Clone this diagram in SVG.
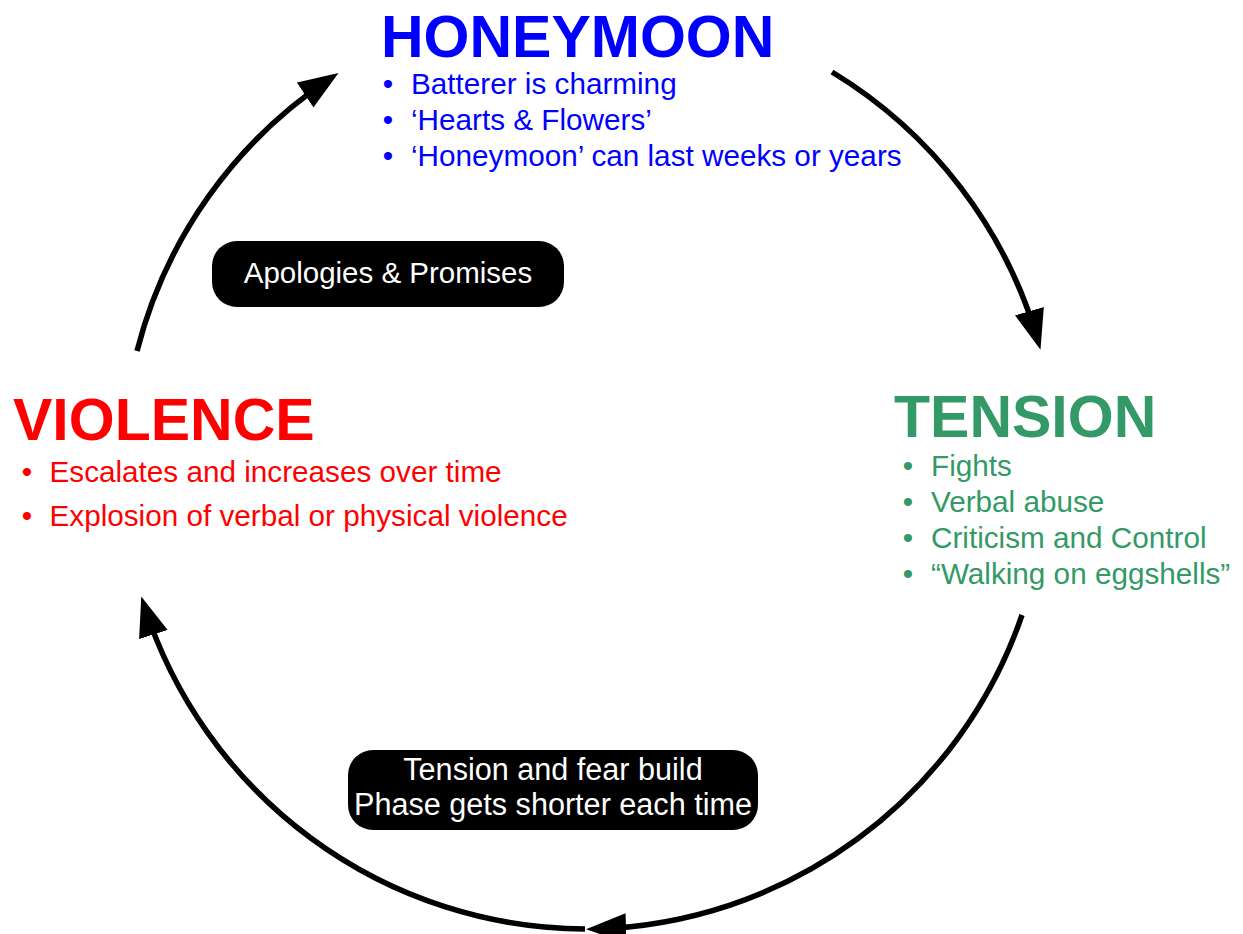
<svg xmlns="http://www.w3.org/2000/svg" width="1243" height="934" viewBox="0 0 1243 934">
<style>
  text { font-family: "Liberation Sans", Arial, sans-serif; }
  .h { font-weight: bold; font-size: 59px; }
  .b { font-size: 29.7px; }
  .blue { fill: #0000FF; }
  .green { fill: #339966; }
  .red { fill: #FF0000; }
  .arc { fill: none; stroke: #000; stroke-width: 5.5; marker-end: url(#ah); }
  .lbl { fill: #000; }
  .lt { fill: #fff; font-size: 29.5px; text-anchor: middle; }
  .dot { text-anchor: middle; }
</style>
<defs>
  <marker id="ah" markerUnits="userSpaceOnUse" markerWidth="42" markerHeight="32" refX="31" refY="15" orient="auto">
    <path d="M0,0 L40,15 L0,30 z" fill="#000"/>
  </marker>
</defs>
<rect width="1243" height="934" fill="#fff"/>
<g id="connectors">
  <path class="arc" d="M137,351 A465,465 0 0 1 331,78"/>
  <path class="arc" d="M832,72 A465,465 0 0 1 1038,341"/>
  <path class="arc" d="M1022,615 A465,465 0 0 1 595,929"/>
  <path class="arc" d="M585,929 A465,465 0 0 1 144,605"/>
</g>
<g id="honeymoon">
  <text class="h blue" x="381" y="57">HONEYMOON</text>
  <text class="b blue dot" x="388" y="94">•</text>
  <text class="b blue" x="411" y="94">Batterer is charming</text>
  <text class="b blue dot" x="388" y="130">•</text>
  <text class="b blue" x="411" y="130">‘Hearts &amp; Flowers’</text>
  <text class="b blue dot" x="388" y="166">•</text>
  <text class="b blue" x="411" y="166">‘Honeymoon’ can last weeks or years</text>
</g>
<g id="tension">
  <text class="h green" x="894" y="437">TENSION</text>
  <text class="b green dot" x="908" y="476">•</text>
  <text class="b green" x="931" y="476">Fights</text>
  <text class="b green dot" x="908" y="512">•</text>
  <text class="b green" x="931" y="512">Verbal abuse</text>
  <text class="b green dot" x="908" y="548">•</text>
  <text class="b green" x="931" y="548">Criticism and Control</text>
  <text class="b green dot" x="908" y="584">•</text>
  <text class="b green" x="931" y="584">“Walking on eggshells”</text>
</g>
<g id="violence">
  <text class="h red" x="13" y="440">VIOLENCE</text>
  <text class="b red dot" x="27" y="482">•</text>
  <text class="b red" x="49.5" y="482">Escalates and increases over time</text>
  <text class="b red dot" x="27" y="526">•</text>
  <text class="b red" x="49.5" y="526">Explosion of verbal or physical violence</text>
</g>
<g id="label-apologies">
  <rect class="lbl" x="212" y="241" width="352" height="66" rx="25"/>
  <text class="lt" x="388" y="283">Apologies &amp; Promises</text>
</g>
<g id="label-tension-build">
  <rect class="lbl" x="348" y="750" width="410" height="80" rx="25"/>
  <text class="lt" x="553" y="780" style="font-size:30.6px">Tension and fear build</text>
  <text class="lt" x="553" y="815" style="font-size:30.6px">Phase gets shorter each time</text>
</g>
</svg>
